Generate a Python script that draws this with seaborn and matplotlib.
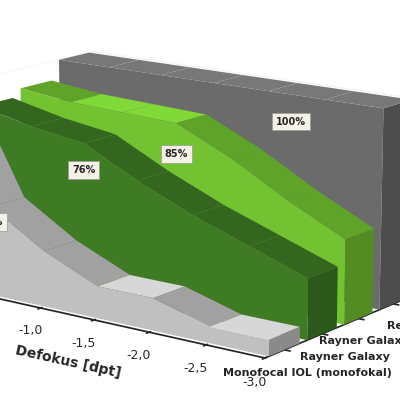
import numpy as np
import matplotlib
matplotlib.use('Agg')
import matplotlib.pyplot as plt
import seaborn as sns
from mpl_toolkits.mplot3d.art3d import Poly3DCollection

sns.set_theme(style='white')
plt.rcParams['font.family'] = ['DejaVu Sans']

defocus = [0.0, -0.5, -1.0, -1.5, -2.0, -2.5, -3.0]
series = ['Monofocal IOL (monofokal)', 'Rayner Galaxy', 'Rayner Galaxy Toric', 'Referenz']
monofocal = [0.98, 0.45, 0.28, 0.16, 0.16, 0.08, 0.08]
galaxy = [0.86, 0.80, 0.76, 0.62, 0.50, 0.40, 0.30]
galaxy_t = [0.90, 0.87, 0.86, 0.85, 0.72, 0.56, 0.42]
reference = [1.0, 1.0, 1.0, 1.0, 1.0, 1.0, 1.0]
colors = ['#c0c0c0', '#3f7a25', '#72c231', '#6b6b6b']
labels = [('43%', 1), ('76%', 2), ('85%', 3), ('100%', 5)]

fig = plt.figure(figsize=(4, 4), dpi=100)
ax = fig.add_axes([-0.26, -0.1, 1.35, 1.2], projection='3d')
ax.computed_zorder = False

def shade(c, f):
    r, g, b = matplotlib.colors.to_rgb(c)
    return (min(r * f, 1), min(g * f, 1), min(b * f, 1))

all_vals = [monofocal, galaxy, galaxy_t, reference]
for i, (vals, col) in enumerate(zip(all_vals, colors)):
    y0, y1 = i - 0.4, i + 0.4
    x = np.array(defocus)
    z = np.array(vals)
    polys, fcs = [], []
    polys.append([(x[-1], y0, 0), (x[-1], y0, z[-1]), (x[-1], y1, z[-1]), (x[-1], y1, 0)])
    fcs.append(shade(col, 0.72))
    for k in range(len(x) - 1):
        polys.append([(x[k], y0, z[k]), (x[k + 1], y0, z[k + 1]), (x[k + 1], y1, z[k + 1]), (x[k], y1, z[k])])
        fcs.append(shade(col, 0.84 if z[k] > z[k + 1] + 0.01 else 1.12))
    polys.append([(x[k], y0, z[k]) for k in range(len(x))] + [(x[-1], y0, 0), (x[0], y0, 0)])
    fcs.append(col)
    pc = Poly3DCollection(polys, facecolors=fcs, edgecolors='none', zorder=10 - i)
    ax.add_collection3d(pc)

for (txt, k), vals, i in zip(labels, all_vals, range(4)):
    xv = -0.5 * k if k < 5 else -2.2
    zv = (vals[k] * 0.8) if i < 3 else 0.85
    ax.text(xv, i - 0.4, zv, txt, fontsize=7, fontweight='bold', ha='center',
            bbox=dict(boxstyle='square,pad=0.4', fc='#f4f1e6', ec='#999999', lw=0.5), zorder=20)

ax.set_xlim(0, -3.0)
ax.set_ylim(-0.5, 3.5)
ax.set_zlim(0, 1.0)
ax.set_xticks([-0.5, -1.0, -1.5, -2.0, -2.5, -3.0])
ax.set_xticklabels(['-0,5', '-1,0', '-1,5', '-2,0', '-2,5', '-3,0'], fontsize=9)
ax.set_yticks(range(4))
ax.set_yticklabels(series, fontsize=8, fontweight='bold')
ax.set_zticks([0, 0.2, 0.4, 0.6, 0.8, 1.0])
ax.set_zticklabels(['0,0', '0,2', '0,4', '0,6', '0,8', '1,0'], fontsize=9)
ax.set_xlabel('Defokus [dpt]', fontsize=10, fontweight='bold', labelpad=8)
for a in (ax.xaxis, ax.yaxis, ax.zaxis):
    a.pane.set_facecolor('#ffffff')
ax.grid(False)
ax.view_init(elev=14, azim=-53)
ax.set_box_aspect((1.6, 1.0, 0.8), zoom=1.05)

fig.savefig('out.png', dpi=100)
